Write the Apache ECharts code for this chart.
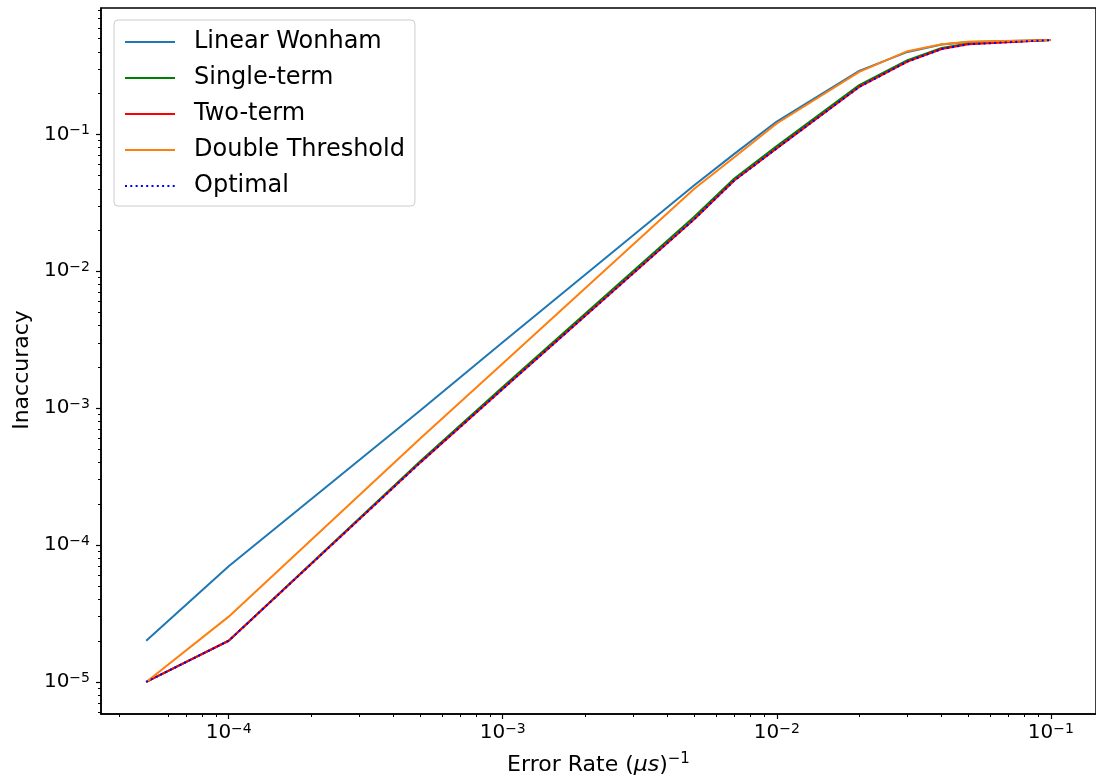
<!DOCTYPE html>
<html><head><meta charset="utf-8">
<script src="https://cdn.jsdelivr.net/npm/echarts@6/dist/echarts.min.js"></script>
<style>html,body{margin:0;padding:0;background:#fff}#c{width:1096px;height:784px}</style>
</head><body><div id="c"></div>
<script>
// ---- data ----
const errorRates = [5e-5, 1e-4, 5e-4, 1e-3, 5e-3, 7e-3, 1e-2, 2e-2, 3e-2, 4e-2, 5e-2, 1e-1];
const linearWonham    = [2e-5, 7e-5, 9.6e-4, 3.03e-3, 0.0425, 0.072, 0.124, 0.291, 0.400, 0.453, 0.473, 0.488];
const singleTerm      = [1e-5, 2e-5, 4.1e-4, 1.43e-3, 0.0250, 0.0476, 0.082, 0.229, 0.348, 0.428, 0.461, 0.488];
const twoTerm         = [1e-5, 2e-5, 4.0e-4, 1.38e-3, 0.0240, 0.0460, 0.079, 0.222, 0.340, 0.420, 0.455, 0.488];
const doubleThreshold = [1e-5, 3e-5, 6.0e-4, 2.12e-3, 0.0400, 0.0680, 0.120, 0.286, 0.405, 0.455, 0.475, 0.488];
const optimal         = [1e-5, 2e-5, 4.0e-4, 1.38e-3, 0.0240, 0.0460, 0.079, 0.222, 0.340, 0.420, 0.455, 0.488];
const seriesNames = ['Linear Wonham', 'Single-term', 'Two-term', 'Double Threshold', 'Optimal'];
const xMajorTicks = [1e-4, 1e-3, 1e-2, 1e-1];
const yMajorTicks = [1e-5, 1e-4, 1e-3, 1e-2, 1e-1];
const xMinorTicks = [4e-5,6e-5,7e-5,8e-5,9e-5, 2e-4,3e-4,4e-4,5e-4,6e-4,7e-4,8e-4,9e-4, 2e-3,3e-3,4e-3,5e-3,6e-3,7e-3,8e-3,9e-3, 2e-2,3e-2,4e-2,5e-2,6e-2,7e-2,8e-2,9e-2];
const yMinorTicks = [6e-6,7e-6,8e-6,9e-6, 2e-5,3e-5,4e-5,5e-5,6e-5,7e-5,8e-5,9e-5, 2e-4,3e-4,4e-4,5e-4,6e-4,7e-4,8e-4,9e-4, 2e-3,3e-3,4e-3,5e-3,6e-3,7e-3,8e-3,9e-3, 2e-2,3e-2,4e-2,5e-2,6e-2,7e-2,8e-2,9e-2, 2e-1,3e-1,4e-1,5e-1,6e-1,7e-1,8e-1];

const FONT = 'DejaVu Sans';
const xMin = Math.pow(10, -4.466), xMax = Math.pow(10, -0.835);
const yMin = Math.pow(10, -5.234), yMax = Math.pow(10, -0.077);

function pairs(ys) { return errorRates.map((x, i) => [x, ys[i]]); }
function powLabel(v) {
  const e = Math.round(Math.log10(v));
  return '{b|10}{s|\u2212' + Math.abs(e) + '}';
}
const labelRich = {
  b: { fontFamily: FONT, fontSize: 20, lineHeight: 22, color: '#000' },
  s: { fontFamily: FONT, fontSize: 14, lineHeight: 14, color: '#000', verticalAlign: 'top' }
};
const axisLineStyle = { color: '#000', width: 1.5 };

const chart = echarts.init(document.getElementById('c'), null, { renderer: 'canvas' });
chart.setOption({
  animation: false,
  backgroundColor: '#fff',
  grid: { left: 101, right: -4, top: 8, bottom: 70, show: true, borderColor: '#000', borderWidth: 1.5, containLabel: false },
  legend: {
    orient: 'vertical', left: 114, top: 20,
    padding: [10, 10, 8, 10],
    itemWidth: 50, itemHeight: 24, itemGap: 12,
    backgroundColor: 'rgba(255,255,255,0.8)',
    borderColor: '#cccccc', borderWidth: 1, borderRadius: 4,
    itemStyle: { opacity: 0, color: 'rgba(0,0,0,0)', borderWidth: 0 },
    textStyle: { fontFamily: FONT, fontSize: 24, color: '#000', padding: [0, 0, 0, 14] },
    data: seriesNames
  },
  xAxis: [{
    type: 'log', min: xMin, max: xMax,
    name: '{n|Error Rate (}{i|\u03bcs}{n|)}{s|\u22121}',
    nameLocation: 'middle', nameGap: 38,
    nameTextStyle: { rich: {
      n: { fontFamily: FONT, fontSize: 22, lineHeight: 26, color: '#000' },
      i: { fontFamily: FONT, fontSize: 22, lineHeight: 26, fontStyle: 'italic', color: '#000' },
      s: { fontFamily: FONT, fontSize: 15, lineHeight: 15, color: '#000', verticalAlign: 'top' }
    } },
    axisLine: { show: true, lineStyle: axisLineStyle },
    axisTick: { show: true, length: 5, customValues: xMajorTicks, lineStyle: { color: '#000', width: 1.2 } },
    axisLabel: { show: true, margin: 8, customValues: xMajorTicks, formatter: powLabel, rich: labelRich },
    splitLine: { show: false }, minorTick: { show: false }
  }, {
    type: 'log', min: xMin, max: xMax, position: 'bottom',
    axisLine: { show: false },
    axisTick: { show: true, length: 3, customValues: xMinorTicks, lineStyle: { color: '#000', width: 1 } },
    axisLabel: { show: false }, splitLine: { show: false }
  }],
  yAxis: [{
    type: 'log', min: yMin, max: yMax,
    name: 'Inaccuracy', nameLocation: 'middle', nameGap: 63,
    nameTextStyle: { fontFamily: FONT, fontSize: 22, color: '#000', padding: [0, 18, 0, 0] },
    axisLine: { show: true, lineStyle: axisLineStyle },
    axisTick: { show: true, length: 5, customValues: yMajorTicks, lineStyle: { color: '#000', width: 1.2 } },
    axisLabel: { show: true, margin: 11, customValues: yMajorTicks, formatter: powLabel, rich: labelRich },
    splitLine: { show: false }, minorTick: { show: false }
  }, {
    type: 'log', min: yMin, max: yMax, position: 'left',
    axisLine: { show: false },
    axisTick: { show: true, length: 3, customValues: yMinorTicks, lineStyle: { color: '#000', width: 1 } },
    axisLabel: { show: false }, splitLine: { show: false }
  }],
  series: [
    { name: seriesNames[0], type: 'line', data: pairs(linearWonham), symbol: 'none', lineStyle: { color: '#1f77b4', width: 2 }, itemStyle: { color: '#1f77b4' } },
    { name: seriesNames[1], type: 'line', data: pairs(singleTerm), symbol: 'none', lineStyle: { color: '#008000', width: 2 }, itemStyle: { color: '#008000' } },
    { name: seriesNames[2], type: 'line', data: pairs(twoTerm), symbol: 'none', lineStyle: { color: '#ff0000', width: 2 }, itemStyle: { color: '#ff0000' } },
    { name: seriesNames[3], type: 'line', data: pairs(doubleThreshold), symbol: 'none', lineStyle: { color: '#ff7f0e', width: 2 }, itemStyle: { color: '#ff7f0e' } },
    { name: seriesNames[4], type: 'line', data: pairs(optimal), symbol: 'none', lineStyle: { color: '#0000ff', width: 2, type: [2, 3.3] }, itemStyle: { color: '#0000ff' } }
  ]
});
</script>
</body></html>
